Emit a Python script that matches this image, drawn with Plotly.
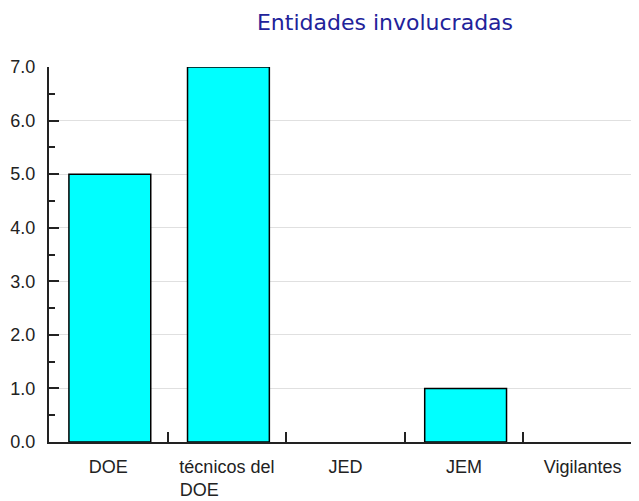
import plotly.graph_objects as go

categories = ["DOE", "técnicos del DOE", "JED", "JEM", "Vigilantes"]
tick_text = ["DOE", "técnicos del<br>DOE" + "\u00a0" * 11, "JED", "JEM", "Vigilantes"]
values = [5, 7, 0, 1, 0]
y_ticks = [0, 1, 2, 3, 4, 5, 6, 7]
y_tick_text = ["0.0", "1.0", "2.0", "3.0", "4.0", "5.0", "6.0", "7.0"]

# page body has an 8px margin, so the figure is sized to fill the rest of the window
W, H, PAD = 631, 493, 8

fig = go.Figure()
fig.add_trace(go.Bar(
    x=categories, y=values, width=0.69, offset=-0.332,
    marker=dict(color="#00FFFF",
                line=dict(color="#000000", width=[1.5 if v > 0 else 0 for v in values])),
))

fig.update_layout(
    width=W, height=H,
    margin=dict(l=49 - PAD, r=0, t=67 - PAD, b=59, autoexpand=False),
    paper_bgcolor="white", plot_bgcolor="white",
    showlegend=False,
    font=dict(family="Liberation Sans, Arial, sans-serif", size=18, color="#222222"),
    title=dict(text="Entidades involucradas", x=(385 - PAD) / W, xanchor="center",
               y=1 - (22 - PAD) / H, yanchor="middle", yref="container", xref="container",
               font=dict(family="DejaVu Sans, Verdana, sans-serif", size=22, color="#22229a")),
)
fig.update_xaxes(
    type="category", range=[-0.5, 4.475], automargin=False,
    tickmode="array", tickvals=categories, ticktext=tick_text,
    tickson="boundaries", ticks="inside", ticklen=10, tickwidth=2, tickcolor="#222222",
    showline=True, linecolor="#222222", linewidth=2,
    showgrid=False, ticklabelstandoff=7,
)
fig.update_yaxes(
    range=[0, 7], tickmode="array", tickvals=y_ticks, ticktext=y_tick_text, automargin=False,
    ticks="inside", ticklen=10, tickwidth=2, tickcolor="#222222",
    minor=dict(dtick=0.5, ticks="inside", ticklen=6, tickwidth=2, tickcolor="#222222", showgrid=False),
    showline=True, linecolor="#222222", linewidth=2,
    showgrid=True, gridcolor="#e0e0e0", gridwidth=1, zeroline=False,
    ticklabelstandoff=8,
)

fig.write_html("out.html")
